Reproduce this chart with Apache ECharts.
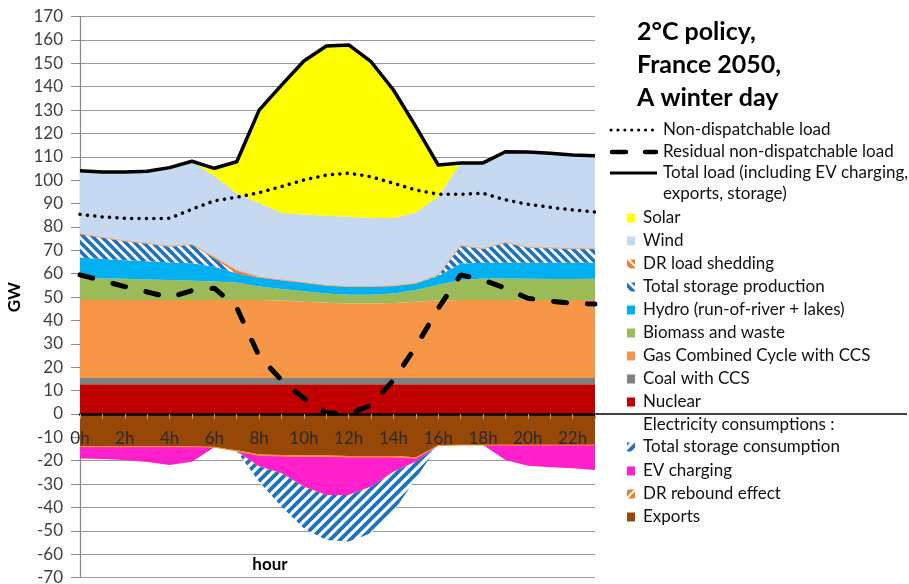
<!DOCTYPE html>
<html><head><meta charset="utf-8">
<script src="https://cdn.jsdelivr.net/npm/echarts@6/dist/echarts.min.js"></script>
<style>html,body{margin:0;padding:0;background:#fff}#c{width:909px;height:584px}</style>
</head><body><div id="c"></div>
<script>
const hours = ['0h','1h','2h','3h','4h','5h','6h','7h','8h','9h','10h','11h','12h','13h','14h','15h','16h','17h','18h','19h','20h','21h','22h','23h'];
const yTicks = {min: -70, max: 170, interval: 10};

// Production (GW), stacked upward
const nuclear = [12.7,12.7,12.7,12.7,12.7,12.7,12.7,12.7,12.7,12.7,12.7,12.7,12.7,12.7,12.7,12.7,12.7,12.7,12.7,12.7,12.7,12.7,12.7,12.7];
const coal = [2.7,2.7,2.7,2.7,2.7,2.7,2.7,2.7,2.7,2.7,2.7,2.7,2.7,2.7,2.7,2.7,2.7,2.7,2.7,2.7,2.7,2.7,2.7,2.7];
const gasCCS = [33.4,33.4,33.4,33.4,33.4,33.4,33.4,33.4,33.4,33.1,32.6,32.2,31.9,31.9,32.1,32.6,33.1,33.4,33.4,33.4,33.4,33.4,33.4,33.4];
const biomass = [9.4,9.2,9.0,8.7,8.5,8.2,7.9,7.4,5.7,5.0,4.5,3.9,3.7,3.7,4.0,5.0,6.8,8.5,9.2,9.2,9.0,8.9,8.9,9.0];
const hydro = [8.7,8.3,8.0,7.8,7.5,7.5,6.3,4.0,3.8,3.8,3.7,3.5,3.5,3.5,3.3,2.9,3.7,7.1,6.7,6.7,6.9,7.0,7.0,6.9];
const storageProd = [10.1,9.2,8.2,7.7,6.9,8.0,3.5,0,0,0,0,0,0,0,0,0,0.5,7.6,6.0,8.6,6.6,6.3,6.0,6.0];
const drShedding = [0,0,0,0,0,0,0.6,1.2,0.3,0,0,0,0,0,0,0,0,0,0,0,0,0,0,0];
const wind = [27.1,28.0,29.5,30.8,33.7,35.6,34.7,33.0,31.7,28.7,29.1,29.8,29.9,29.3,29.0,30.3,33.5,35.4,36.7,38.9,40.8,40.5,40.1,39.8];
const solar = [0,0,0,0,0,0,3.3,13.5,39.7,54.7,65.7,72.6,73.5,66.9,54.8,36.7,13.5,0,0,0,0,0,0,0];

// Consumption (GW), stacked downward
const exportsV = [-14,-14,-14,-14,-14,-14,-14.2,-15.5,-17.3,-17.6,-17.8,-17.8,-18,-18,-18,-18.5,-13.5,-13.3,-13.3,-13.3,-13.3,-13.3,-13.3,-13.3];
const drRebound = [0,0,0,0,0,0,0,-0.4,-0.4,-0.4,-0.4,-0.4,-0.4,-0.4,-0.4,-0.4,0,0,0,0,0,0,0,0];
const evCharging = [-5,-5.3,-5.7,-6.5,-7.8,-6.4,0,0,-4.8,-7.4,-12.9,-16.5,-16.3,-12.7,-6.3,-1.5,0,0,0,-6.4,-8.9,-9.5,-9.9,-10.7];
const storageCons = [0,0,0,0,0,0,0,0,-6.5,-14.3,-17.8,-19.2,-19.9,-19.9,-17.1,-7.1,0,0,0,0,0,0,0,0];

// Load lines (GW)
const totalLoad = [104.1,103.5,103.5,103.8,105.4,108.1,105.1,107.9,130,140.7,151,157.4,157.9,150.7,138.6,122.9,106.5,107.4,107.4,112.2,112.1,111.5,110.8,110.5];
const nonDispLoad = [85.4,84.3,83.7,83.6,83.7,87.6,91.2,92.7,94.7,97.3,100.1,102.2,103,101.5,98.7,95.8,94,94,94.4,91.6,89.7,88.4,87.3,86.4];
const residualLoad = [59.5,57,54.5,52.2,49.8,52.8,53.8,45.5,24.7,14.5,6.7,0.5,0,3.8,14.5,28.8,45.2,59.5,57.3,53.8,49.5,48.3,47.3,47];

const BLUE = '#1E73BE';
function hatch(dir, size, lw, fg, bg) {
  const c = document.createElement('canvas');
  c.width = size; c.height = size;
  const g = c.getContext('2d');
  g.fillStyle = bg; g.fillRect(0, 0, size, size);
  g.strokeStyle = fg; g.lineWidth = lw; g.lineCap = 'square';
  g.beginPath();
  if (dir === '\\') {
    for (const k of [-size, 0, size]) { g.moveTo(k, 0); g.lineTo(k + size, size); }
  } else {
    for (const k of [0, size, 2 * size]) { g.moveTo(k, 0); g.lineTo(k - size, size); }
  }
  g.stroke();
  return c;
}
const hatchProd = hatch('\\', 9, 3.6, BLUE, '#fff');
const hatchCons = hatch('/', 10, 3.8, BLUE, '#fff');
const hatchOrangeProd = hatch('\\', 9, 2, '#fff', '#F47B20');
const hatchOrangeCons = hatch('/', 9, 2, '#fff', '#F47B20');

function area(name, data, stack, fill, lineColor, lineWidth) {
  return {
    name, type: 'line', stack, data, symbol: 'none', silent: true,
    lineStyle: {width: lineWidth || 0, color: lineColor || 'transparent'},
    areaStyle: {color: fill, opacity: 1},
    itemStyle: {color: typeof fill === 'string' ? fill : BLUE},
    emphasis: {disabled: true}
  };
}

const FONT = 'Lato, "Open Sans", sans-serif';
const chart = echarts.init(document.getElementById('c'), null, {renderer: 'canvas'});

const W = 909, H = 584;
const gridTop = 16.6, gridBottom = 6.4;
const gridH = H - gridTop - gridBottom;
const zeroOffset = -(0 - yTicks.min) / (yTicks.max - yTicks.min) * gridH;

const legendX0 = 627, legendTX = 643;
const boxes = [
  ['Solar', '#FFFF00', 218],
  ['Wind', '#C6D9F1', 241],
  ['DR load shedding', {image: hatchOrangeProd, repeat: 'repeat'}, 264],
  ['Total storage production', {image: hatchProd, repeat: 'repeat'}, 287],
  ['Hydro (run-of-river + lakes)', '#00B0F0', 310],
  ['Biomass and waste', '#9BBB59', 333],
  ['Gas Combined Cycle with CCS', '#F79646', 356],
  ['Coal with CCS', '#808080', 379],
  ['Nuclear', '#C00000', 402],
  ['Total storage consumption', {image: hatchCons, repeat: 'repeat'}, 447],
  ['EV charging', '#FF1FCB', 471],
  ['DR rebound effect', {image: hatchOrangeCons, repeat: 'repeat'}, 494],
  ['Exports', '#974806', 517]
];
const LFONT = '17px ' + FONT;
const graphics = [];
boxes.forEach(([t, col, y]) => {
  graphics.push({type: 'rect', shape: {x: legendX0, y: y - 4.5, width: 8, height: 9}, style: {fill: col}, silent: true});
  graphics.push({type: 'text', x: legendTX, y: y, style: {text: t, font: LFONT, fill: '#111', textVerticalAlign: 'middle', verticalAlign: 'middle'}, silent: true});
});
graphics.push({type: 'text', x: legendTX, y: 425, style: {text: 'Electricity consumptions :', font: LFONT, fill: '#111', textVerticalAlign: 'middle', verticalAlign: 'middle'}, silent: true});
// line legend
graphics.push({type: 'line', shape: {x1: 611, y1: 130, x2: 655, y2: 130}, style: {stroke: '#000', lineWidth: 3, lineDash: [0.1, 6.8], lineCap: 'round'}, silent: true});
graphics.push({type: 'text', x: 663, y: 130, style: {text: 'Non-dispatchable load', font: LFONT, fill: '#111', textVerticalAlign: 'middle', verticalAlign: 'middle'}, silent: true});
graphics.push({type: 'line', shape: {x1: 612, y1: 152, x2: 656, y2: 152}, style: {stroke: '#000', lineWidth: 4.5, lineDash: [14, 19], lineCap: 'round'}, silent: true});
graphics.push({type: 'text', x: 663, y: 152, style: {text: 'Residual non-dispatchable load', font: LFONT, fill: '#111', textVerticalAlign: 'middle', verticalAlign: 'middle'}, silent: true});
graphics.push({type: 'line', shape: {x1: 610, y1: 173, x2: 657, y2: 173}, style: {stroke: '#000', lineWidth: 3}, silent: true});
graphics.push({type: 'text', x: 663, y: 173, style: {text: 'Total load (including EV charging,', font: LFONT, fill: '#111', textVerticalAlign: 'middle', verticalAlign: 'middle'}, silent: true});
graphics.push({type: 'text', x: 663, y: 194, style: {text: 'exports, storage)', font: LFONT, fill: '#111', textVerticalAlign: 'middle', verticalAlign: 'middle'}, silent: true});
// title
['2°C policy,', 'France 2050,', 'A winter day'].forEach((t, i) => {
  graphics.push({type: 'text', x: 637, y: 32 + i * 33, style: {text: t, font: 'bold 25px ' + FONT, fill: '#000', textVerticalAlign: 'middle', verticalAlign: 'middle'}, silent: true});
});
// axis line extension to the right (separator)
graphics.push({type: 'line', shape: {x1: 595, y1: 414, x2: 907, y2: 414}, style: {stroke: '#000', lineWidth: 1.5}, silent: true});
graphics.push({type: 'text', x: 270, y: 565, style: {text: 'hour', font: 'bold 17px ' + FONT, fill: '#000', textAlign: 'center', align: 'center', textVerticalAlign: 'middle', verticalAlign: 'middle'}, silent: true});

chart.setOption({
  animation: false,
  backgroundColor: '#fff',
  grid: {left: 80, right: 314, top: gridTop, bottom: gridBottom, containLabel: false, outerBoundsMode: 'none'},
  xAxis: {
    type: 'category', data: hours, boundaryGap: false, position: 'bottom', offset: zeroOffset,
    axisLine: {onZero: false, lineStyle: {color: '#000', width: 2.5}},
    axisTick: {show: true, interval: 0, length: 5, lineStyle: {color: '#a8a8a8', width: 1}},
    axisLabel: {interval: 1, margin: 16, fontSize: 17, fontFamily: FONT, color: '#2a2a2a'},
    splitLine: {show: false}, z: 10
  },
  yAxis: {
    type: 'value', min: yTicks.min, max: yTicks.max, interval: yTicks.interval,
    name: 'GW', nameLocation: 'middle', nameGap: 55, nameRotate: 90,
    nameTextStyle: {fontSize: 17, fontWeight: 'bold', fontFamily: FONT, color: '#000'},
    axisLine: {show: true, lineStyle: {color: '#8a8a8a', width: 1.3}},
    axisTick: {show: true, length: 9, lineStyle: {color: '#8a8a8a'}},
    axisLabel: {margin: 17, fontSize: 17, fontFamily: FONT, color: '#404040'},
    splitLine: {lineStyle: {color: '#9a9a9a', width: 1.2}}
  },
  series: [
    area('Nuclear', nuclear, 'pos', '#C00000'),
    area('Coal with CCS', coal, 'pos', '#808080'),
    area('Gas Combined Cycle with CCS', gasCCS, 'pos', '#F79646'),
    area('Biomass and waste', biomass, 'pos', '#9BBB59'),
    area('Hydro (run-of-river + lakes)', hydro, 'pos', '#00B0F0'),
    area('Total storage production', storageProd, 'pos', {image: hatchProd, repeat: 'repeat'}),
    area('DR load shedding', drShedding, 'pos', '#F47B20', '#F9A66C', 1),
    area('Wind', wind, 'pos', '#C6D9F1'),
    area('Solar', solar, 'pos', '#FFFF00'),
    area('Exports', exportsV, 'neg', '#974806'),
    area('DR rebound effect', drRebound, 'neg', '#F47B20', '#F7963C', 1),
    area('EV charging', evCharging, 'neg', '#FF1FCB'),
    area('Total storage consumption', storageCons, 'neg', {image: hatchCons, repeat: 'repeat'}),
    {name: 'Non-dispatchable load', type: 'line', data: nonDispLoad, symbol: 'none', silent: true, z: 5,
     lineStyle: {color: '#000', width: 3.5, type: [0.1, 7.3], cap: 'round'}},
    {name: 'Residual non-dispatchable load', type: 'line', data: residualLoad, symbol: 'none', silent: true, z: 5,
     lineStyle: {color: '#000', width: 5, type: [13, 21], cap: 'round'}},
    {name: 'Total load (including EV charging, exports, storage)', type: 'line', data: totalLoad, symbol: 'none', silent: true, z: 5,
     lineStyle: {color: '#000', width: 3.5, join: 'round'}}
  ],
  graphic: graphics
});
</script></body></html>
